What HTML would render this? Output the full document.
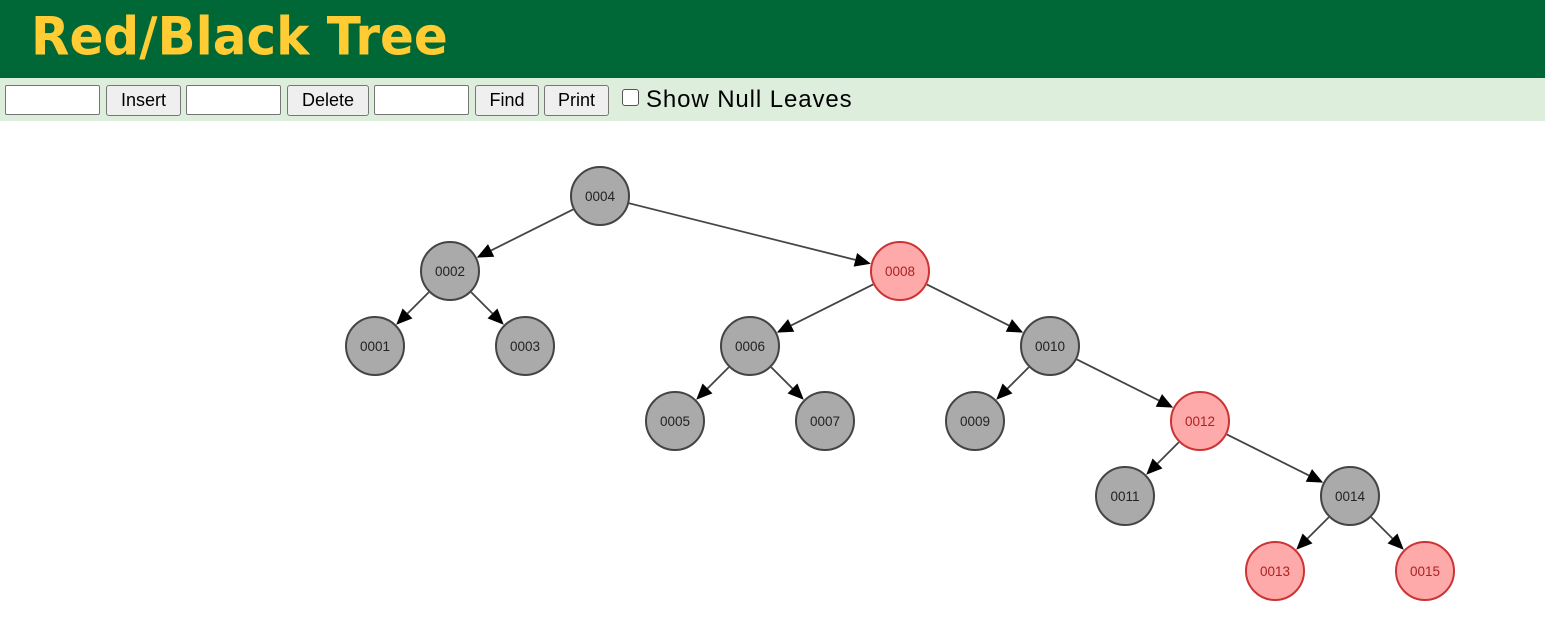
<!DOCTYPE html>
<html><head><meta charset="utf-8"><style>
body{margin:0;width:1545px;height:640px;background:#fff;overflow:hidden;font-family:"Liberation Sans",Arial,sans-serif}
#hdr{height:78px;background:#006837;position:relative}
#hdr h1{margin:0;position:absolute;left:31px;top:6px;font:bold 50px "DejaVu Sans",Verdana,sans-serif;color:#ffcc33;letter-spacing:0px;transform:scaleY(1.05);transform-origin:left top}
#bar{height:43px;background:#ddeedd;position:relative}
.in{position:absolute;top:7px;width:91px;height:30px;border:1px solid #767676;border-radius:2px;background:#fff;box-sizing:border-box}
.bt{position:absolute;top:7px;height:31px;border:1px solid #767676;border-radius:3px;background:#efefef;box-sizing:border-box;font-size:18px;line-height:29px;text-align:center;color:#000}
#cb{position:absolute;left:622px;top:11px;width:17px;height:17px;border:1px solid #555;border-radius:3px;background:#fff;box-sizing:border-box}
#lbl{position:absolute;left:646px;top:8px;font-size:24px;letter-spacing:0.9px;color:#000}
svg{position:absolute;left:0;top:0}
</style></head><body>
<div id="hdr"><h1>Red/Black Tree</h1></div>
<div id="bar">
<div class="in" style="left:5px;width:95px"></div>
<div class="bt" style="left:106px;width:75px">Insert</div>
<div class="in" style="left:186px;width:95px"></div>
<div class="bt" style="left:287px;width:82px">Delete</div>
<div class="in" style="left:374px;width:95px"></div>
<div class="bt" style="left:475px;width:64px">Find</div>
<div class="bt" style="left:544px;width:65px">Print</div>
<div id="cb"></div><div id="lbl">Show Null Leaves</div>
</div>
<svg id="s" width="1545" height="640"></svg>
<script>
var N={"0004":[600,196,0],"0002":[450,271,0],"0008":[900,271,1],"0001":[375,346,0],"0003":[525,346,0],"0006":[750,346,0],"0010":[1050,346,0],"0005":[675,421,0],"0007":[825,421,0],"0009":[975,421,0],"0012":[1200,421,1],"0011":[1125,496,0],"0014":[1350,496,0],"0013":[1275,571,1],"0015":[1425,571,1]};
var E=[["0004","0002"],["0004","0008"],["0002","0001"],["0002","0003"],["0008","0006"],["0008","0010"],["0006","0005"],["0006","0007"],["0010","0009"],["0010","0012"],["0012","0011"],["0012","0014"],["0014","0013"],["0014","0015"]];
var h='',r=30;
E.forEach(function(e){var a=N[e[0]],b=N[e[1]];var dx=b[0]-a[0],dy=b[1]-a[1],L=Math.hypot(dx,dy),ux=dx/L,uy=dy/L;
var x1=a[0]+ux*r,y1=a[1]+uy*r,tx=b[0]-ux*r,ty=b[1]-uy*r,bx=tx-ux*16,by=ty-uy*16,px=-uy*7,py=ux*7;
h+='<line x1="'+x1+'" y1="'+y1+'" x2="'+bx+'" y2="'+by+'" stroke="#444" stroke-width="1.8"/>';
h+='<polygon points="'+tx+','+ty+' '+(bx+px)+','+(by+py)+' '+(bx-px)+','+(by-py)+'" fill="#000"/>';});
for(var k in N){var n=N[k];
h+='<circle cx="'+n[0]+'" cy="'+n[1]+'" r="29" fill="'+(n[2]?'#ffaaaa':'#aaaaaa')+'" stroke="'+(n[2]?'#cc3333':'#444')+'" stroke-width="2"/>';
h+='<text x="'+n[0]+'" y="'+(n[1]+5)+'" text-anchor="middle" font-family="Liberation Sans, Arial, sans-serif" font-size="13.5" fill="'+(n[2]?'#aa2222':'#222')+'">'+k+'</text>';}
document.getElementById('s').innerHTML=h;
</script>
</body></html>
